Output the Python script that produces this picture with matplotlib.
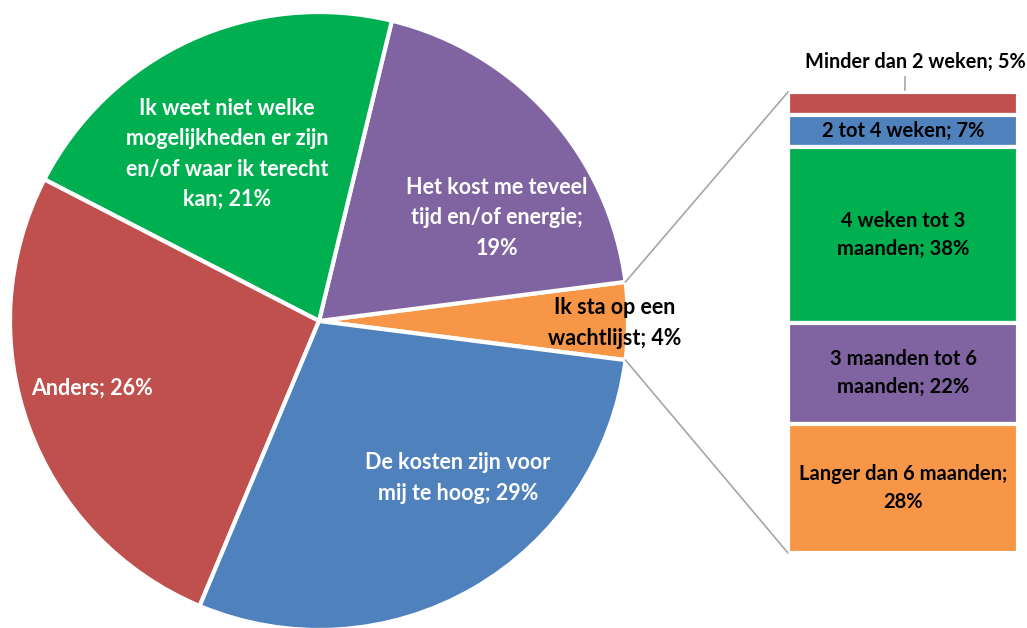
import matplotlib
matplotlib.use("Agg")
import matplotlib.pyplot as plt
import numpy as np

plt.rcParams['font.family'] = ['Lato', 'DejaVu Sans']

# Pie data (counterclockwise from the right)
pie_labels = ["Ik sta op een\nwachtlijst; 4%",
              "Het kost me teveel\ntijd en/of energie;\n19%",
              "Ik weet niet welke\nmogelijkheden er zijn\nen/of waar ik terecht\nkan; 21%",
              "Anders; 26%",
              "De kosten zijn voor\nmij te hoog; 29%"]
pie_values = [4, 19, 21, 26, 29]
pie_colors = ["#F79646", "#8064A2", "#00B050", "#C0504D", "#4F81BD"]
pie_text_colors = ["black", "white", "white", "white", "white"]

# Bar breakdown of the waiting list slice (top to bottom)
bar_labels = ["Minder dan 2 weken; 5%", "2 tot 4 weken; 7%",
              "4 weken tot 3\nmaanden; 38%", "3 maanden tot 6\nmaanden; 22%",
              "Langer dan 6 maanden;\n28%"]
bar_values = [5, 7, 38, 22, 28]
bar_colors = ["#C0504D", "#4F81BD", "#00B050", "#8064A2", "#F79646"]

W, H = 1027, 628
fig = plt.figure(figsize=(W / 100, H / 100), dpi=100)
ax = fig.add_axes([0, 0, 1, 1])

cx, cy, r = 319, H - 321, 309
total = sum(pie_values)
start = -0.5 * pie_values[0] / total * 360
wedges, _ = ax.pie(pie_values, colors=pie_colors, startangle=start, counterclock=True,
                   center=(cx, cy), radius=r, frame=True,
                   wedgeprops=dict(edgecolor='white', linewidth=3))
ax.set_xlim(0, W)
ax.set_ylim(0, H)
ax.set_aspect('equal')
ax.axis('off')

# label positions (pixel coords, y from top)
label_pos = [(615, 323), (497, 218), (227, 154), (92, 388), (458, 478)]
for lab, (x, y), c in zip(pie_labels, label_pos, pie_text_colors):
    ax.text(x, H - y, lab, ha='center', va='center', color=c, fontsize=15.5,
            fontweight='bold', linespacing=1.55)

# bar axes
bl, bt, br, bb = 788, 92, 1018, 553
ax2 = fig.add_axes([bl / W, (H - bb) / H, (br - bl) / W, (bb - bt) / H])
bottoms = np.concatenate([[0], np.cumsum(bar_values)[:-1]])
ax2.bar([0] * len(bar_values), bar_values, bottom=bottoms, width=1.0,
        color=bar_colors, edgecolor='white', linewidth=3)
ax2.set_xlim(-0.5, 0.5)
ax2.set_ylim(100, 0)
ax2.axis('off')
for i, (lab, v, b) in enumerate(zip(bar_labels, bar_values, bottoms)):
    if i == 0:
        continue
    ax2.text(0, b + v / 2, lab, ha='center', va='center', color='black',
             fontsize=14.5, fontweight='bold', linespacing=1.5)

# first label above the bar with leader
ax.text(915, H - 62, bar_labels[0], ha='center', va='center', color='black',
        fontsize=14.3, fontweight='bold')
ax.plot([905, 905], [H - 77, H - 90], color='#A6A6A6', lw=1.2)

# connector lines from orange wedge edges to bar corners
w0 = wedges[0]
for ang, (px, py) in [(w0.theta2, (bl, H - bt)), (w0.theta1, (bl, H - bb))]:
    ex = cx + r * np.cos(np.radians(ang))
    ey = cy + r * np.sin(np.radians(ang))
    ax.plot([ex, px], [ey, py], color='#A6A6A6', lw=1.2)

fig.savefig("out.png", dpi=100)
